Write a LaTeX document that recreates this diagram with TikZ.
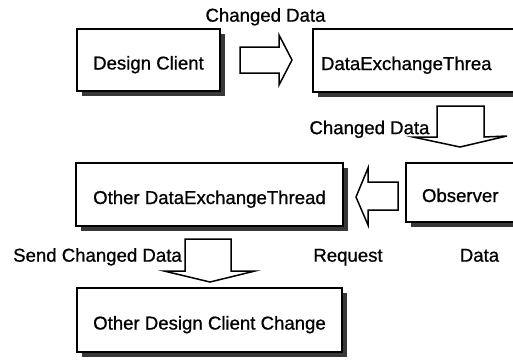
\documentclass[tikz,border=0pt]{standalone}
\usepackage{fontspec}
\setmainfont{Liberation Sans}
\newfontfamily\scanfont{Liberation Sans}[FakeBold=0.8]
\usetikzlibrary{shadows}
\begin{document}
\begin{tikzpicture}[x=1bp,y=-1bp,
  every node/.style={font=\scanfont\fontsize{18.6bp}{22bp}\selectfont},
  boxnode/.style={rectangle, draw=black, line width=1.7bp, fill=white,
    text height=19bp, text depth=0pt, inner ysep=0pt,
    general shadow={shadow xshift=5bp, shadow yshift=-5bp, fill=black!78, draw=none}},
  lbl/.style={inner sep=0pt, text height=13.3bp, text depth=0pt},
  blockarrow/.style={draw=black, line width=1.5bp, fill=white, line join=miter}]
\clip (0,0) rectangle (513,359);
\fill[white] (0,0) rectangle (513,359);
% boxes
\node[boxnode, minimum width=143bp, minimum height=62bp] (dc) at (148.5,60) {Design Client};
\node[boxnode, minimum width=227bp, minimum height=63bp, inner xsep=8bp, text width=211bp, align=left] (det) at (426.5,60.5) {DataExchangeThrea};
\node[boxnode, minimum width=134bp, minimum height=59bp, inner xsep=16bp, text width=102bp, align=left] (obs) at (473,192.5) {Observer};
\node[boxnode, minimum width=267bp, minimum height=63bp] (odet) at (209.5,194.5) {Other DataExchangeThread};
\node[boxnode, minimum width=265bp, minimum height=64bp] (odc) at (209.5,320) {Other Design Client Change};
% block arrows
\draw[blockarrow] (240,47) -- (279,47) -- (279,35) -- (292,60) -- (279,85) -- (279,73) -- (240,73) -- cycle;
\draw[blockarrow] (437,106) -- (484,106) -- (484,137) -- (507,136) -- (460,147) -- (413,137) -- (437,137) -- cycle;
\draw[blockarrow] (398,182) -- (368,182) -- (368,168) -- (356,197) -- (368,225) -- (368,210) -- (398,210) -- cycle;
\draw[blockarrow] (185,239) -- (231,239) -- (231,271) -- (255,271) -- (210,282) -- (164,271) -- (185,271) -- cycle;
% labels
\node[lbl] (l1) at (265.5,15) {Changed Data};
\node[lbl] (l2) at (369.5,127.5) {Changed Data};
\node[lbl] (l3) at (97.5,255) {Send Changed Data};
\node[lbl] (l4) at (348,255) {Request};
\node[lbl] (l5) at (479.5,255) {Data};
\end{tikzpicture}
\end{document}
